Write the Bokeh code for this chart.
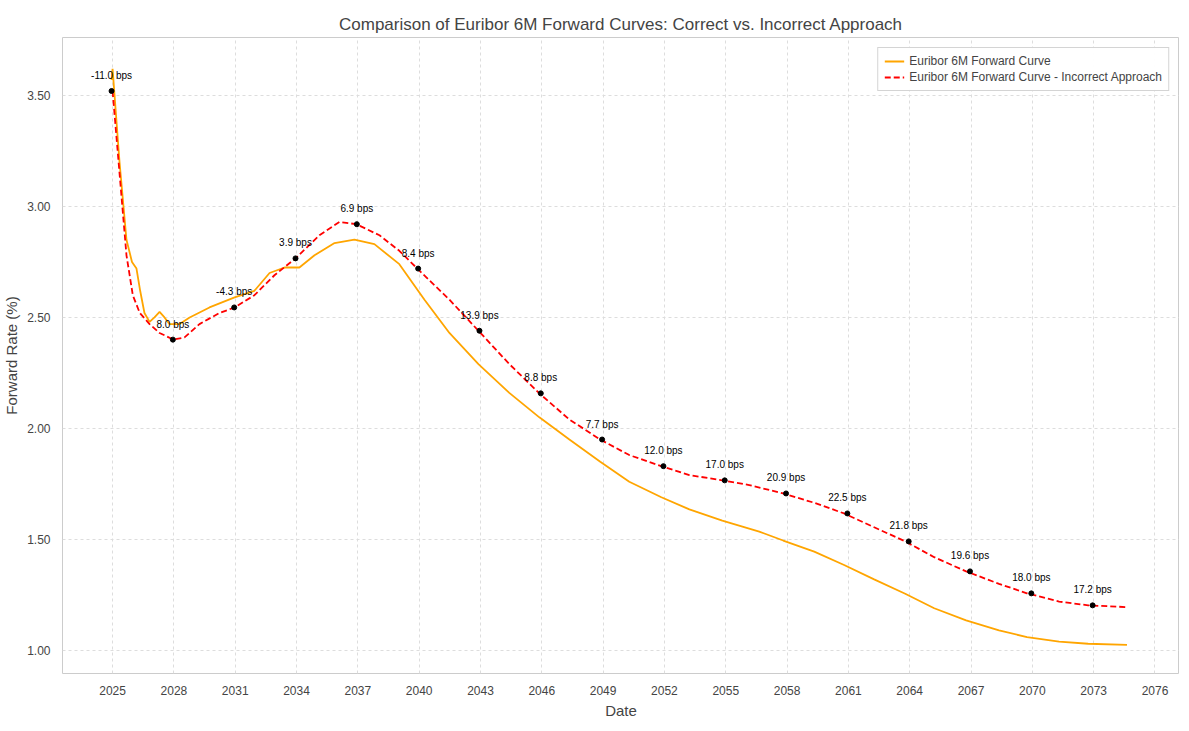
from bokeh.plotting import figure
from bokeh.models import Range1d, FixedTicker, NumeralTickFormatter, ColumnDataSource
from bokeh.embed import file_html
from bokeh.resources import INLINE

FONT = "Liberation Sans"

correct_years = [2024.95, 2025.0, 2025.34, 2025.68, 2025.95, 2026.17, 2026.35, 2026.56, 2026.81, 2027.05, 2027.30, 2027.54, 2027.79,
                 2028.28, 2028.77, 2029.74, 2030.97, 2031.94, 2032.68, 2033.41, 2034.14, 2034.88, 2035.86, 2036.83, 2037.81,
                 2039.03, 2040.26, 2041.48, 2042.90, 2044.41, 2045.88, 2047.35, 2048.86, 2050.28, 2051.85, 2053.22, 2054.83,
                 2056.64, 2057.81, 2059.33, 2060.79, 2062.26, 2063.78, 2065.20, 2066.76, 2068.37, 2069.74, 2071.31, 2072.73, 2074.63]
correct_rates = [3.57, 3.62, 3.20, 2.85, 2.75, 2.72, 2.62, 2.52, 2.48, 2.50, 2.525, 2.50, 2.47,
                 2.47, 2.50, 2.545, 2.59, 2.62, 2.70, 2.725, 2.725, 2.78, 2.835, 2.85, 2.83,
                 2.74, 2.58, 2.43, 2.29, 2.16, 2.05, 1.95, 1.85, 1.76, 1.69, 1.635, 1.585,
                 1.535, 1.495, 1.445, 1.385, 1.32, 1.255, 1.19, 1.135, 1.09, 1.06, 1.04, 1.03, 1.025]

incorrect_years = [2025.0, 2025.34, 2025.68, 2025.99, 2026.33, 2026.81, 2027.30, 2027.98, 2028.52, 2029.25, 2030.23, 2030.97,
                   2031.94, 2032.92, 2033.95, 2035.12, 2036.10, 2036.93, 2038.06, 2039.03, 2039.91, 2041.48, 2042.90, 2044.41,
                   2045.88, 2047.35, 2048.86, 2050.28, 2051.85, 2053.22, 2054.83, 2056.15, 2057.81, 2059.33, 2060.79, 2062.26,
                   2063.78, 2065.20, 2066.76, 2068.37, 2069.74, 2071.31, 2072.73, 2074.63]
incorrect_rates = [3.52, 3.15, 2.78, 2.60, 2.52, 2.47, 2.43, 2.40, 2.41, 2.47, 2.52, 2.545,
                   2.60, 2.69, 2.766, 2.87, 2.93, 2.92, 2.87, 2.80, 2.72, 2.58, 2.44, 2.29,
                   2.158, 2.04, 1.95, 1.88, 1.83, 1.79, 1.766, 1.745, 1.707, 1.665, 1.617, 1.555,
                   1.491, 1.42, 1.356, 1.30, 1.257, 1.22, 1.203, 1.195]

point_years = [2025, 2028, 2031, 2034, 2037, 2040, 2043, 2046, 2049, 2052, 2055, 2058, 2061, 2064, 2067, 2070, 2073]
point_years = [y - 0.05 for y in point_years]
point_rates = [3.52, 2.40, 2.545, 2.766, 2.92, 2.72, 2.44, 2.158, 1.95, 1.83, 1.766, 1.707, 1.617, 1.491, 1.356, 1.257, 1.203]
point_labels = ["-11.0 bps", "8.0 bps", "-4.3 bps", "3.9 bps", "6.9 bps", "8.4 bps", "13.9 bps", "8.8 bps", "7.7 bps",
                "12.0 bps", "17.0 bps", "20.9 bps", "22.5 bps", "21.8 bps", "19.6 bps", "18.0 bps", "17.2 bps"]

x_ticks = [2025, 2028, 2031, 2034, 2037, 2040, 2043, 2046, 2049, 2052, 2055, 2058, 2061, 2064, 2067, 2070, 2073, 2076]
y_ticks = [1.0, 1.5, 2.0, 2.5, 3.0, 3.5]

p = figure(frame_width=1117, frame_height=636, output_backend="svg", toolbar_location=None,
           x_range=Range1d(2022.55, 2077.2), y_range=Range1d(0.896, 3.761),
           min_border_left=55, min_border_top=37, min_border_bottom=30, min_border_right=0)
p.title.text = "Comparison of Euribor 6M Forward Curves: Correct vs. Incorrect Approach"
p.title.align = "center"
p.title.text_font = FONT
p.title.text_font_size = "17px"
p.title.text_font_style = "normal"
p.title.standoff = 8

p.line(correct_years, correct_rates, color="orange", line_width=1.8, legend_label="Euribor 6M Forward Curve")
p.line(incorrect_years, incorrect_rates, color="red", line_width=1.8, line_dash="6 3",
       legend_label="Euribor 6M Forward Curve - Incorrect Approach")
src = ColumnDataSource(dict(x=point_years, y=point_rates, t=point_labels))
p.scatter("x", "y", source=src, size=5, color="black")
p.text("x", "y", text="t", source=src, text_align="center", text_baseline="bottom", y_offset=-10,
       text_font_size="10px", text_color="black", text_font={"value": FONT})

p.xaxis.ticker = FixedTicker(ticks=x_ticks)
p.yaxis.ticker = FixedTicker(ticks=y_ticks)
p.yaxis.formatter = NumeralTickFormatter(format="0.00")
p.xaxis.axis_label = "Date"
p.yaxis.axis_label = "Forward Rate (%)"
for ax in (p.xaxis, p.yaxis):
    ax.axis_label_text_font = FONT
    ax.axis_label_text_font_style = "normal"
    ax.axis_label_text_font_size = "15px"
    ax.major_label_text_font = FONT
    ax.major_label_text_font_size = "12px"
    ax.axis_line_color = None
    ax.major_tick_line_color = None
    ax.minor_tick_line_color = None
    ax.major_label_standoff = 6
    ax.axis_label_standoff = 4
p.outline_line_color = "#cccccc"
p.grid.grid_line_color = "#dddddd"
p.grid.grid_line_dash = "3 3"
p.legend.location = "top_right"
p.legend.label_text_font = FONT
p.legend.label_text_font_size = "12px"
p.legend.border_line_color = "#aaaaaa"
p.legend.spacing = 2
p.legend.padding = 6
p.legend.glyph_height = 14

open("out.html", "w").write(file_html(p, INLINE))
